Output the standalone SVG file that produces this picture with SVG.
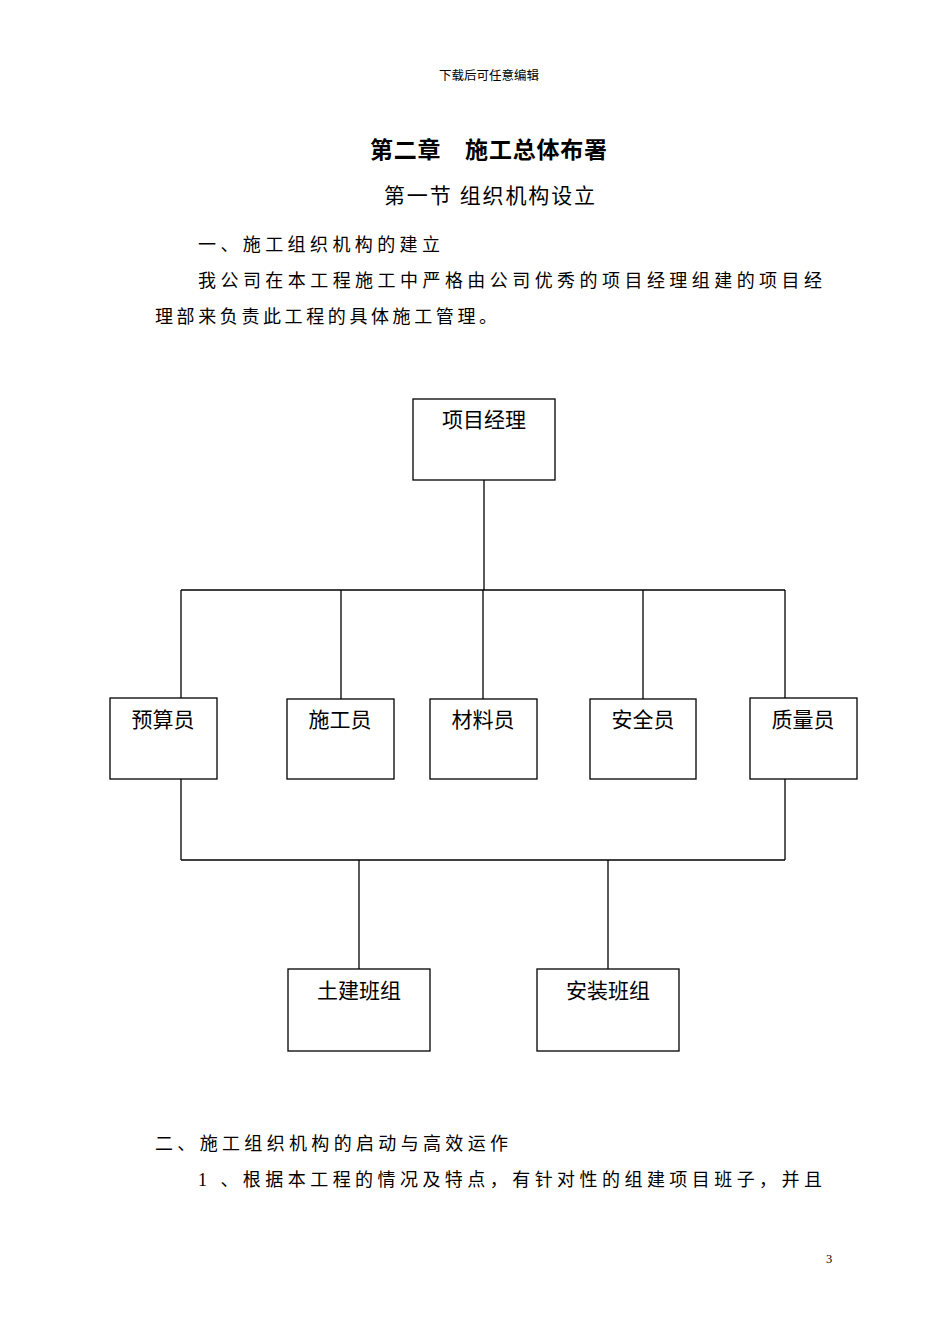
<svg xmlns="http://www.w3.org/2000/svg" width="950" height="1344" viewBox="0 0 950 1344">
<style>
text{font-family:"Liberation Serif","Noto Sans CJK SC",serif;fill:#000}
.box{fill:#fff;stroke:#000;stroke-width:1.3}
.lbl{font-size:21px;text-anchor:middle}
.body{font-size:18px}
.conn line{stroke:#000;stroke-width:1.3}
</style>
<rect width="950" height="1344" fill="#fff"/>
<text x="489" y="80" font-size="12.5" text-anchor="middle" fill="#333">下载后可任意编辑</text>
<text x="370" y="158" font-size="23" font-weight="bold" textLength="237" lengthAdjust="spacing">第二章　施工总体布署</text>
<text x="384" y="203" font-size="21" textLength="211" lengthAdjust="spacing">第一节 组织机构设立</text>
<text class="body" x="198" y="251" textLength="242" lengthAdjust="spacing">一、施工组织机构的建立</text>
<text class="body" x="198" y="287" textLength="624" lengthAdjust="spacing">我公司在本工程施工中严格由公司优秀的项目经理组建的项目经</text>
<text class="body" x="155" y="323" textLength="342" lengthAdjust="spacing">理部来负责此工程的具体施工管理。</text>

<g class="conn" id="connectors">
<line x1="484" y1="480" x2="484" y2="590"/>
<line x1="181" y1="590" x2="785" y2="590"/>
<line x1="181" y1="590" x2="181" y2="698"/>
<line x1="341" y1="590" x2="341" y2="699"/>
<line x1="483" y1="590" x2="483" y2="699"/>
<line x1="643" y1="590" x2="643" y2="699"/>
<line x1="785" y1="590" x2="785" y2="698"/>
<line x1="181" y1="779" x2="181" y2="860"/>
<line x1="785" y1="779" x2="785" y2="860"/>
<line x1="181" y1="860" x2="785" y2="860"/>
<line x1="359" y1="860" x2="359" y2="969"/>
<line x1="608" y1="860" x2="608" y2="969"/>
</g>

<g id="n-xmjl"><rect class="box" x="413" y="399" width="142" height="81"/><text class="lbl" x="484" y="427">项目经理</text></g>
<g id="n-ysy"><rect class="box" x="110" y="698" width="107" height="81"/><text class="lbl" x="163" y="727">预算员</text></g>
<g id="n-sgy"><rect class="box" x="287" y="699" width="107" height="80"/><text class="lbl" x="340" y="727">施工员</text></g>
<g id="n-cly"><rect class="box" x="430" y="699" width="107" height="80"/><text class="lbl" x="483" y="727">材料员</text></g>
<g id="n-aqy"><rect class="box" x="590" y="699" width="106" height="80"/><text class="lbl" x="643" y="727">安全员</text></g>
<g id="n-zly"><rect class="box" x="750" y="698" width="107" height="81"/><text class="lbl" x="803" y="727">质量员</text></g>
<g id="n-tjbz"><rect class="box" x="288" y="969" width="142" height="82"/><text class="lbl" x="359" y="998">土建班组</text></g>
<g id="n-azbz"><rect class="box" x="537" y="969" width="142" height="82"/><text class="lbl" x="608" y="998">安装班组</text></g>

<text class="body" x="155" y="1150" textLength="353" lengthAdjust="spacing">二、施工组织机构的启动与高效运作</text>
<text class="body" x="198" y="1186" textLength="624" lengthAdjust="spacing">1 、根据本工程的情况及特点，有针对性的组建项目班子，并且</text>
<text x="829" y="1263" font-size="12.5" text-anchor="middle" fill="#333">3</text>
</svg>
